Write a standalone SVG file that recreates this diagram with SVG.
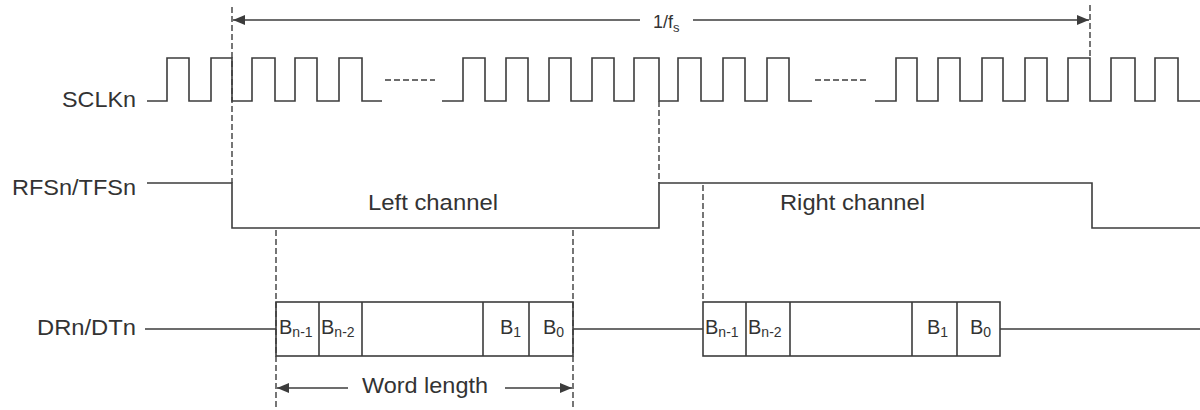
<svg xmlns="http://www.w3.org/2000/svg" width="1200" height="410" viewBox="0 0 1200 410">
<style>
.w{fill:none;stroke:#3c3c3c;stroke-width:1.6}
.d{fill:none;stroke:#3c3c3c;stroke-width:1.4;stroke-dasharray:6,3}
.t{font-family:"Liberation Sans",Arial,sans-serif;fill:#333;font-size:22px}
.b{font-family:"Liberation Sans",Arial,sans-serif;fill:#333;font-size:20px}
.s{font-size:14px}
</style>
<defs>
<marker id="ah" viewBox="0 0 12 10" refX="12" refY="5" markerWidth="12" markerHeight="10" markerUnits="userSpaceOnUse" orient="auto-start-reverse">
<path d="M0,0 L12,5 L0,10 Z" fill="#3c3c3c"/>
</marker>
</defs>
<rect width="1200" height="410" fill="#fff"/>
<g id="sclk">
<text class="t" x="62" y="107" textLength="74" lengthAdjust="spacingAndGlyphs">SCLKn</text>
<path class="w" d="M147,101 H167 V58 H189 V101 H211 V58 H232 V101 H252 V58 H275 V101 H295 V58 H317 V101 H339 V58 H362 V101 H382"/>
<path class="w" d="M442,101 H463 V58 H485 V101 H506 V58 H528 V101 H549 V58 H571 V101 H592 V58 H614 V101 H634 V58 H659 V101 H678 V58 H701 V101 H723 V58 H745 V101 H767 V58 H789 V101 H812"/>
<path class="w" d="M875,101 H896 V58 H917 V101 H938 V58 H960 V101 H982 V58 H1003 V101 H1025 V58 H1047 V101 H1068 V58 H1090 V101 H1111 V58 H1135 V101 H1155 V58 H1178 V101 H1200"/>
<path class="d" d="M385,80 H435 M815,80 H867"/>
</g>
<g id="rfs">
<text class="t" x="12" y="195" textLength="124" lengthAdjust="spacingAndGlyphs">RFSn/TFSn</text>
<path class="w" d="M147,183 H232 V228 H659 V183 H1092 V228 H1200"/>
<text class="t" x="368" y="210" textLength="130" lengthAdjust="spacingAndGlyphs">Left channel</text>
<text class="t" x="780" y="210" textLength="145" lengthAdjust="spacingAndGlyphs">Right channel</text>
</g>
<g id="data">
<text class="t" x="37" y="335" textLength="99" lengthAdjust="spacingAndGlyphs">DRn/DTn</text>
<path class="w" d="M145,329 H276 M573,329 H703 M1000,329 H1200"/>
<g id="word1">
<rect class="w" x="276" y="302" width="297" height="54"/>
<path class="w" d="M319,302 V356 M362,302 V356 M483,302 V356 M529,302 V356"/>
<text class="b" x="279" y="334">B<tspan class="s" dy="3">n-1</tspan></text>
<text class="b" x="321" y="334">B<tspan class="s" dy="3">n-2</tspan></text>
<text class="b" x="500" y="334">B<tspan class="s" dy="3">1</tspan></text>
<text class="b" x="543" y="334">B<tspan class="s" dy="3">0</tspan></text>
</g>
<g id="word2">
<rect class="w" x="703" y="302" width="297" height="54"/>
<path class="w" d="M746,302 V356 M790,302 V356 M912,302 V356 M957,302 V356"/>
<text class="b" x="705" y="334">B<tspan class="s" dy="3">n-1</tspan></text>
<text class="b" x="748" y="334">B<tspan class="s" dy="3">n-2</tspan></text>
<text class="b" x="927" y="334">B<tspan class="s" dy="3">1</tspan></text>
<text class="b" x="970" y="334">B<tspan class="s" dy="3">0</tspan></text>
</g>
</g>
<g id="connectors">
<path class="d" d="M232,7 V183 M659,101 V183 M1090,5 V58 M276,230 V410 M573,230 V410 M703,185 V302"/>
<line class="w" x1="640" y1="20" x2="233" y2="20" marker-end="url(#ah)"/>
<line class="w" x1="693" y1="20" x2="1089" y2="20" marker-end="url(#ah)"/>
<line class="w" x1="348" y1="388" x2="277" y2="388" marker-end="url(#ah)"/>
<line class="w" x1="505" y1="388" x2="572" y2="388" marker-end="url(#ah)"/>
</g>
<g id="labels">
<text class="t" x="653" y="28" style="font-size:18px">1/f<tspan class="s" dy="4" style="font-size:13px">s</tspan></text>
<text class="t" x="362" y="393" textLength="126" lengthAdjust="spacingAndGlyphs">Word length</text>
</g>
</svg>
